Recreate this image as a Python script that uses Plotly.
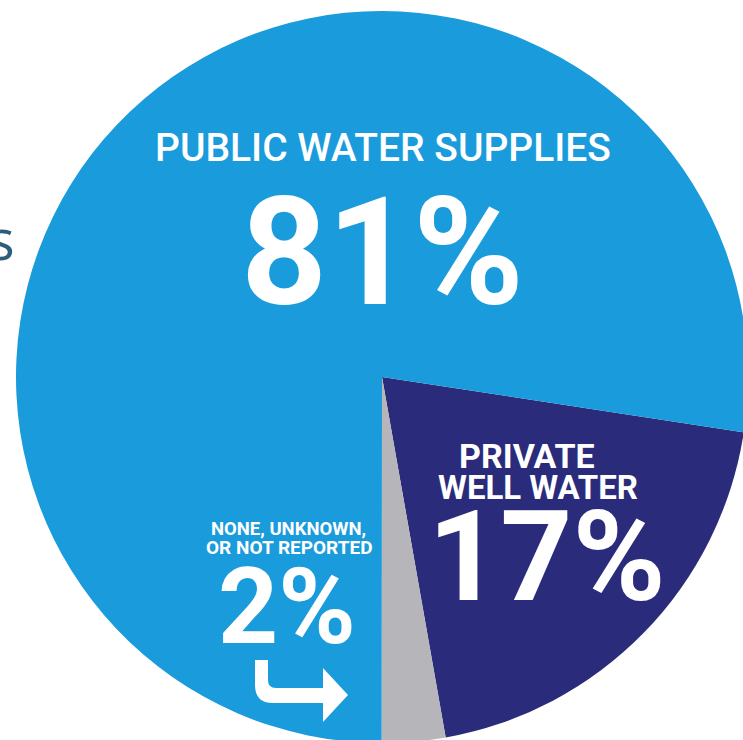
import plotly.graph_objects as go

# ---- data (slice order: clockwise starting at the navy wedge) ----
categories = ["PRIVATE WELL WATER", "NONE, UNKNOWN, OR NOT REPORTED", "PUBLIC WATER SUPPLIES"]
slice_share = [19.8, 2.8, 77.4]          # angular share of each wedge as drawn
label_pct = ["17%", "2%", "81%"]          # printed percentages
slice_colors = ["#2a2b7b", "#b6b5b9", "#1a9bdb"]

W, H = 764, 754
def px(x):
    return x / W
def py(y):
    return 1 - y / H

cx, cy, r = 382, 377, 366

fig = go.Figure(go.Pie(
    labels=categories,
    values=slice_share,
    sort=False,
    direction="clockwise",
    rotation=98.7,
    marker=dict(colors=slice_colors, line=dict(width=0)),
    textinfo="none",
    hoverinfo="label",
    showlegend=False,
    domain=dict(x=[px(cx - r), px(cx + r)], y=[py(cy + r), py(cy - r)]),
))

FONT = "Roboto, Open Sans, sans-serif"
ann = []
def add(text, x, y, size, weight="normal", color="white"):
    ann.append(dict(text=text, x=px(x), y=py(y), xref="paper", yref="paper",
                    xanchor="center", yanchor="middle", showarrow=False,
                    font=dict(family=FONT, size=size, color=color, weight=weight)))

add(categories[2], 383, 148, 39, weight=500)
add(label_pct[2], 382, 253, 150, weight="bold")
add("PRIVATE", 527, 456, 34, weight="bold")
add("WELL WATER", 538, 487, 33, weight="bold")
add(label_pct[0], 547, 557, 126, weight="bold")
add("NONE, UNKNOWN,", 288, 529, 18.5, weight="bold")
add("OR NOT REPORTED", 289, 547, 19, weight="bold")
add(label_pct[1], 287, 607, 105, weight="bold")

# cropped word fragment at left edge
ann.append(dict(text="s", x=px(17), y=py(238), xref="paper", yref="paper",
                xanchor="right", yanchor="middle", showarrow=False,
                font=dict(family="Open Sans, sans-serif", size=56, color="#2f5d7c")))

# hooked arrow decoration
pts = ("M {a},{b} L {c},{b} L {c},{d} Q {c},{e} {f},{e} L {g},{e} L {g},{h} "
       "L {i},{j} L {g},{k} L {g},{l} L {m},{l} Q {a},{l} {a},{n} Z")
path = pts.format(a=px(255), b=py(660), c=px(268), d=py(680), e=py(688), f=px(276),
                  g=px(323), h=py(668), i=px(348), j=py(695), k=py(722), l=py(703),
                  m=px(273), n=py(685))

fig.update_layout(
    width=W, height=H,
    margin=dict(l=0, r=0, t=0, b=0),
    paper_bgcolor="white", plot_bgcolor="white",
    annotations=ann,
    shapes=[dict(type="path", path=path, xref="paper", yref="paper",
                 fillcolor="white", line=dict(width=0))],
)

fig.write_html("out.html", config={"displayModeBar": False},
               post_script="document.body.style.margin='0';document.body.style.overflow='hidden';")
